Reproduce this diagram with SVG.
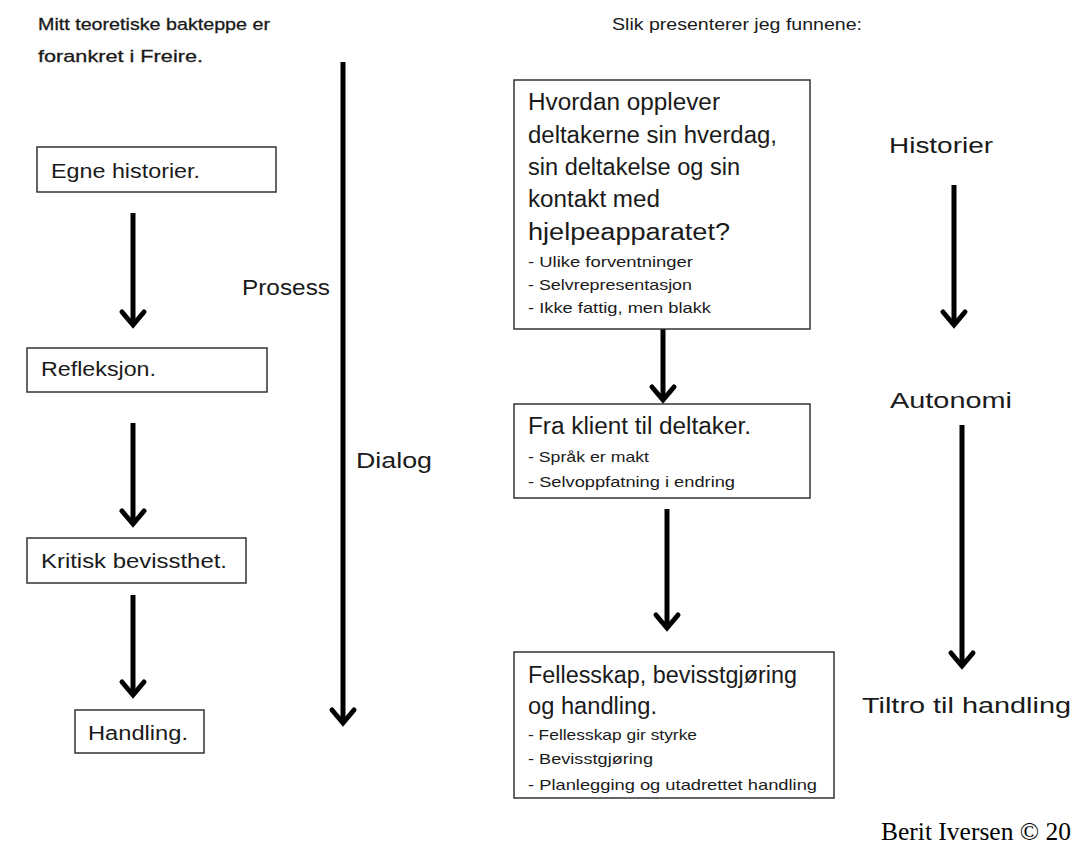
<svg xmlns="http://www.w3.org/2000/svg" width="1073" height="843" viewBox="0 0 1073 843">
<style>
.t{font-family:"Liberation Sans",Arial,sans-serif;fill:#1a1a1a}
.box{fill:#fff;stroke:#333;stroke-width:1.5}
.arr{stroke:#000;stroke-width:5;fill:none;marker-end:url(#chev)}
.cr{font-family:"Liberation Serif","Times New Roman",serif;fill:#000}
</style>
<defs>
<marker id="chev" markerUnits="userSpaceOnUse" viewBox="-20 -16 26 32" refX="0" refY="0" markerWidth="26" markerHeight="32" orient="auto">
<path d="M-13,-11 L0,0 L-13,11" fill="none" stroke="#000" stroke-width="5" stroke-linejoin="miter" stroke-linecap="round"/>
</marker>
</defs>
<rect width="1073" height="843" fill="#fff"/>
<g id="headers">
<text class="t" x="38" y="30" font-size="17" textLength="232" lengthAdjust="spacingAndGlyphs" stroke="#1a1a1a" stroke-width="0.3">Mitt teoretiske bakteppe er</text>
<text class="t" x="38" y="62" font-size="17" textLength="165" lengthAdjust="spacingAndGlyphs" stroke="#1a1a1a" stroke-width="0.3">forankret i Freire.</text>
<text class="t" x="612" y="30" font-size="17" textLength="250" lengthAdjust="spacingAndGlyphs">Slik presenterer jeg funnene:</text>
</g>
<g id="connectors">
<line class="arr" x1="133" y1="213" x2="133" y2="325"/>
<line class="arr" x1="133" y1="423" x2="133" y2="524"/>
<line class="arr" x1="133" y1="595" x2="133" y2="695"/>
<line class="arr" x1="343" y1="62" x2="343" y2="723"/>
<line class="arr" x1="663" y1="329" x2="663" y2="400"/>
<line class="arr" x1="667" y1="509" x2="667" y2="628"/>
<line class="arr" x1="954" y1="185" x2="954" y2="325"/>
<line class="arr" x1="962" y1="425" x2="962" y2="666"/>
</g>
<g id="egne">
<rect class="box" x="37" y="147" width="239" height="45"/>
<text class="t" x="51" y="178" font-size="20" textLength="149" lengthAdjust="spacingAndGlyphs">Egne historier.</text>
</g>
<g id="refleksjon">
<rect class="box" x="27" y="348" width="240" height="44"/>
<text class="t" x="41" y="376" font-size="20" textLength="115" lengthAdjust="spacingAndGlyphs">Refleksjon.</text>
</g>
<g id="kritisk">
<rect class="box" x="27" y="538" width="219" height="45"/>
<text class="t" x="41" y="568" font-size="20" textLength="186" lengthAdjust="spacingAndGlyphs">Kritisk bevissthet.</text>
</g>
<g id="handling">
<rect class="box" x="75" y="710" width="129" height="43"/>
<text class="t" x="88" y="740" font-size="20" textLength="100" lengthAdjust="spacingAndGlyphs">Handling.</text>
</g>
<g id="prosess">
<text class="t" x="242" y="295" font-size="22" textLength="88" lengthAdjust="spacingAndGlyphs">Prosess</text>
</g>
<g id="dialog">
<text class="t" x="356" y="468" font-size="22" textLength="76" lengthAdjust="spacingAndGlyphs">Dialog</text>
</g>
<g id="hvordan">
<rect class="box" x="514" y="80" width="296" height="249"/>
<text class="t" x="528" y="110" font-size="23" textLength="192" lengthAdjust="spacingAndGlyphs">Hvordan opplever</text>
<text class="t" x="528" y="143" font-size="23" textLength="249" lengthAdjust="spacingAndGlyphs">deltakerne sin hverdag,</text>
<text class="t" x="528" y="175" font-size="23" textLength="212" lengthAdjust="spacingAndGlyphs">sin deltakelse og sin</text>
<text class="t" x="528" y="207" font-size="23" textLength="132" lengthAdjust="spacingAndGlyphs">kontakt med</text>
<text class="t" x="528" y="240" font-size="23" textLength="202" lengthAdjust="spacingAndGlyphs">hjelpeapparatet?</text>
<text class="t" x="528" y="267" font-size="15" textLength="165" lengthAdjust="spacingAndGlyphs">- Ulike forventninger</text>
<text class="t" x="528" y="290" font-size="15" textLength="164" lengthAdjust="spacingAndGlyphs">- Selvrepresentasjon</text>
<text class="t" x="528" y="313" font-size="15" textLength="183" lengthAdjust="spacingAndGlyphs">- Ikke fattig, men blakk</text>
</g>
<g id="klient">
<rect class="box" x="514" y="404" width="296" height="94"/>
<text class="t" x="528" y="434" font-size="23" textLength="223" lengthAdjust="spacingAndGlyphs">Fra klient til deltaker.</text>
<text class="t" x="528" y="462" font-size="15" textLength="121" lengthAdjust="spacingAndGlyphs">- Språk er makt</text>
<text class="t" x="528" y="487" font-size="15" textLength="207" lengthAdjust="spacingAndGlyphs">- Selvoppfatning i endring</text>
</g>
<g id="fellesskap">
<rect class="box" x="514" y="652" width="320" height="146"/>
<text class="t" x="528" y="683" font-size="23" textLength="269" lengthAdjust="spacingAndGlyphs">Fellesskap, bevisstgjøring</text>
<text class="t" x="528" y="714" font-size="23" textLength="129" lengthAdjust="spacingAndGlyphs">og handling.</text>
<text class="t" x="528" y="740" font-size="15" textLength="169" lengthAdjust="spacingAndGlyphs">- Fellesskap gir styrke</text>
<text class="t" x="528" y="764" font-size="15" textLength="125" lengthAdjust="spacingAndGlyphs">- Bevisstgjøring</text>
<text class="t" x="528" y="790" font-size="15" textLength="289" lengthAdjust="spacingAndGlyphs">- Planlegging og utadrettet handling</text>
</g>
<g id="historier">
<text class="t" x="889" y="153" font-size="22" textLength="104" lengthAdjust="spacingAndGlyphs">Historier</text>
</g>
<g id="autonomi">
<text class="t" x="890" y="408" font-size="22" textLength="122" lengthAdjust="spacingAndGlyphs">Autonomi</text>
</g>
<g id="tiltro">
<text class="t" x="862" y="713" font-size="22" textLength="209" lengthAdjust="spacingAndGlyphs">Tiltro til handling</text>
</g>
<g id="credit">
<text class="cr" x="881" y="840" font-size="25" textLength="190" lengthAdjust="spacingAndGlyphs">Berit Iversen © 20</text>
</g>
</svg>
